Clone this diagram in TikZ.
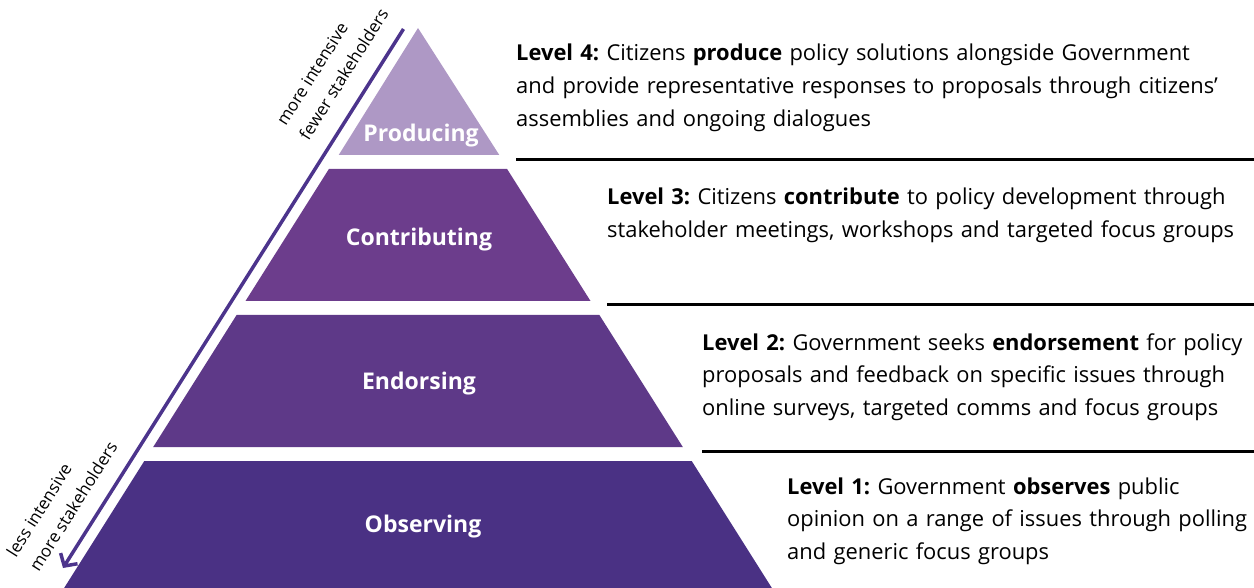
\documentclass[tikz,border=0pt]{standalone}
\usepackage{fontspec}
\setmainfont{Open Sans}
\frenchspacing
\usetikzlibrary{arrows.meta,calc}

\definecolor{produceC}{RGB}{174,152,197}
\definecolor{contribC}{RGB}{108,61,140}
\definecolor{endorseC}{RGB}{94,57,136}
\definecolor{observeC}{RGB}{74,49,132}
\definecolor{arrowC}{RGB}{76,52,140}

\tikzset{
  layer label/.style={anchor=base, text=white, inner sep=0pt, font=\fontsize{23}{27}\selectfont\bfseries},
  level text/.style={anchor=base west, inner sep=0pt, text width=740pt, align=left, font=\fontsize{21.9}{32.8}\selectfont},
  side text/.style={rotate=57.7, anchor=west, align=left, inner sep=0pt, font=\fontsize{17}{27}\selectfont},
  rule/.style={line width=3pt},
  trend/.style={draw=arrowC, line width=3.5pt, -{Straight Barb[length=9pt, width=20pt]}},
}

\begin{document}
\begin{tikzpicture}[x=1pt, y=-1pt]
  \useasboundingbox (0,0) rectangle (1254,588);

  % the pyramid, cut into four layers
  \fill[produceC] (418,28) -- (499.3,155) -- (338.7,155) -- cycle;
  \fill[contribC] (328.9,169) -- (507.1,169) -- (590.5,301) -- (245.5,301) -- cycle;
  \fill[endorseC] (236.6,315) -- (599.4,315) -- (682.8,447) -- (153.2,447) -- cycle;
  \fill[observeC] (144.3,461) -- (691.7,461) -- (776.3,595) -- (59.7,595) -- cycle;

  \node[layer label] (producing) at (421,142) {Producing};
  \node[layer label] (contributing) at (419,246) {Contributing};
  \node[layer label] (endorsing) at (419,389) {Endorsing};
  \node[layer label] (observing) at (423,532) {Observing};

  % intensity arrow along the left side
  \coordinate (trendtop) at (403.5,29);
  \coordinate (trendtip) at (63,568);
  \draw[trend] (trendtop) -- (trendtip);

  \node[side text] (fewer) at (292,131) {more intensive\\fewer stakeholders};
  \node[side text] (more) at (22,562) {less intensive\\more stakeholders};

  % level descriptions
  \node[level text] (lvl4) at (516,61)
  {\textbf{Level 4:} Citizens \textbf{produce} policy solutions alongside Government\\
   and provide representative responses to proposals through citizens’\\
   assemblies and ongoing dialogues};
  \node[level text] (lvl3) at (607,205)
  {\textbf{Level 3:} Citizens \textbf{contribute} to policy development through\\
   stakeholder meetings, workshops and targeted focus groups};
  \node[level text] (lvl2) at (702,350)
  {\textbf{Level 2:} Government seeks \textbf{endorsement} for policy\\
   proposals and feedback on specific issues through\\
   online surveys, targeted comms and focus groups};
  \node[level text] (lvl1) at (787,494)
  {\textbf{Level 1:} Government \textbf{observes} public\\
   opinion on a range of issues through polling\\
   and generic focus groups};

  \draw[rule] (lvl4.base west |- 0,160) -- (1254,160);
  \draw[rule] (lvl3.base west |- 0,305) -- (1254,305);
  \draw[rule] (lvl2.base west |- 0,451) -- (1254,451);

\end{tikzpicture}
\end{document}
